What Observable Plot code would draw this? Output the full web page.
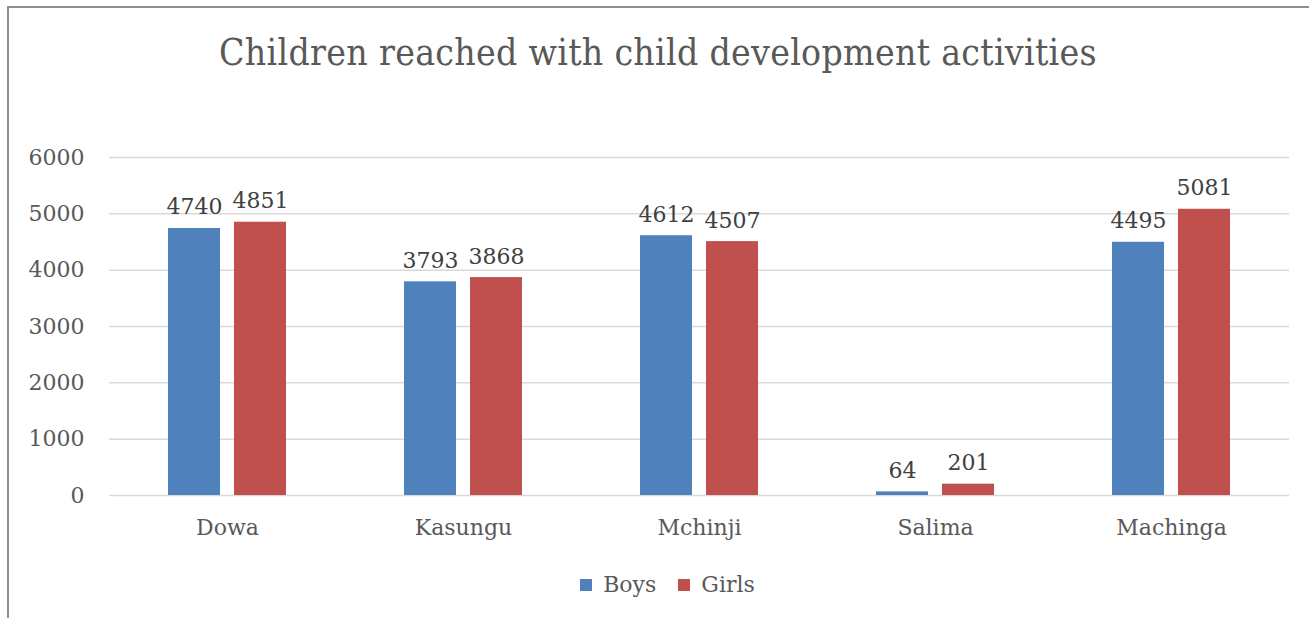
<!DOCTYPE html>
<html><head><meta charset="utf-8">
<script src="https://cdn.jsdelivr.net/npm/d3@7"></script>
<script src="https://cdn.jsdelivr.net/npm/@observablehq/plot@0.6"></script>
<style>
body{margin:0;background:#fff;font-family:"DejaVu Serif",serif;}
#frame{position:absolute;left:7px;top:6px;width:1330px;height:700px;border:2px solid #8f8f8f;box-sizing:border-box;}
#title{position:absolute;left:0;top:31px;width:1316px;text-align:center;font-size:37px;color:#595959;font-family:"DejaVu Serif Condensed","DejaVu Serif",serif;letter-spacing:0.3px;}
#chart{position:absolute;left:0;top:130px;}
#legend{position:absolute;left:24px;top:568px;width:1309px;display:flex;justify-content:center;}
</style></head><body>
<div id="frame"></div>
<div id="title">Children reached with child development activities</div>
<div id="chart"></div>
<div id="legend"></div>
<script>
const districts = ["Dowa","Kasungu","Mchinji","Salima","Machinga"];
const series = ["Boys","Girls"];
const boys = [4740,3793,4612,64,4495];
const girls = [4851,3868,4507,201,5081];
const yTicks = [0,1000,2000,3000,4000,5000,6000];
const colors = ["#4f81bd","#c0504d"];

const data = districts.flatMap((d,i)=>[
  {district:d, sex:"Boys", value:boys[i]},
  {district:d, sex:"Girls", value:girls[i]}
]);

const chart = Plot.plot({
  width:1309, height:430,
  marginLeft:107, marginRight:19, marginTop:27, marginBottom:65,
  style:{fontFamily:"DejaVu Serif", fontSize:"22px", color:"#595959", background:"transparent"},
  fx:{domain:districts, padding:0, label:null, axis:"bottom", tickSize:0, tickPadding:24},
  x:{domain:series, paddingInner:0.21, paddingOuter:0.87, axis:null},
  y:{domain:[0,6000], ticks:yTicks, tickSize:0, tickPadding:25, label:null, tickFormat:d=>String(d)},
  color:{domain:series, range:colors},
  marks:[
    Plot.ruleY(yTicks, {stroke:"#d9d9d9", strokeWidth:1.5}),
    Plot.barY(data, {fx:"district", x:"sex", y:"value", fill:"sex"}),
    Plot.text(data, {fx:"district", x:"sex", y:"value", text:d=>String(d.value), lineAnchor:"bottom", dy:-14, fill:"#404040", fontSize:22})
  ]
});
document.getElementById("chart").appendChild(chart);

const legend = Plot.legend({
  color:{domain:series, range:colors},
  legend:"swatches", swatchSize:12,
  style:{fontSize:"22px", fontFamily:"DejaVu Serif", color:"#595959"}
});
document.getElementById("legend").appendChild(legend);
</script>
</body></html>
